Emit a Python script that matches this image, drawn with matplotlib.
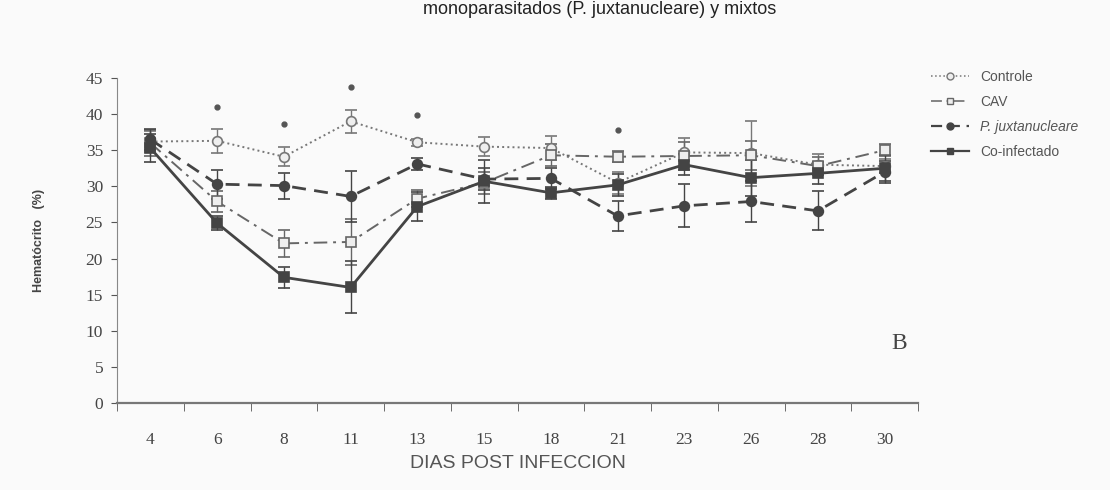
import numpy as np
import matplotlib
matplotlib.use('Agg')
import matplotlib.pyplot as plt
from matplotlib.lines import Line2D

dias = ['4', '6', '8', '11', '13', '15', '18', '21', '23', '26', '28', '30']

controle = [36.2, 36.3, 34.1, 39.0, 36.1, 35.5, 35.3, 30.5, 34.7, 34.6, 33.0, 32.8]
controle_err = [1.5, 1.7, 1.3, 1.6, 0.5, 1.3, 1.7, 1.5, 2.0, 4.5, 1.5, 1.0]
cav = [36.0, 27.9, 22.1, 22.3, 28.3, 30.5, 34.3, 34.1, 34.2, 34.3, 32.8, 35.0]
cav_err = [1.8, 1.5, 1.9, 3.2, 1.2, 1.5, 1.5, 0.8, 2.0, 2.0, 1.2, 0.8]
pjux = [36.5, 30.3, 30.1, 28.6, 33.1, 31.0, 31.1, 25.9, 27.3, 27.9, 26.6, 32.0]
pjux_err = [1.5, 2.0, 1.8, 3.5, 0.8, 1.5, 1.5, 2.1, 3.0, 2.8, 2.7, 1.5]
coinf = [35.3, 24.9, 17.4, 16.0, 27.2, 30.7, 29.1, 30.2, 33.0, 31.2, 31.8, 32.5]
coinf_err = [2.0, 1.0, 1.5, 3.6, 2.0, 3.0, 0.8, 1.5, 1.5, 2.5, 1.5, 1.8]

# asterisks (significance) above some days
sig_idx = [1, 2, 3, 4, 7]
sig_y = [41.0, 38.6, 43.7, 39.9, 37.8]

gray = '#555555'
x = np.arange(len(dias))

fig = plt.figure(figsize=(11.1, 4.9), dpi=100, facecolor='#fafafa')
ax = fig.add_axes([117 / 1110, 1 - 403 / 490, (918 - 117) / 1110, (403 - 78) / 490])
ax.set_facecolor('#fafafa')

styles = [
    (controle, controle_err, 'Controle', '#777777', ':', 1.4, 'o', '#eeeeee'),
    (cav, cav_err, 'CAV', '#666666', (0, (7, 3, 1.5, 3)), 1.4, 's', '#eeeeee'),
    (pjux, pjux_err, 'P. juxtanucleare', '#444444', (0, (5, 3)), 2, 'o', '#444444'),
    (coinf, coinf_err, 'Co-infectado', '#444444', '-', 2, 's', '#444444'),
]
handles = []
for vals, err, name, col, ls, lw, mk, mfc in styles:
    ax.errorbar(x, vals, yerr=err, color=col, ls=ls, lw=lw, marker=mk, ms=7,
                mfc=mfc, mec=col, mew=1.2, capsize=4, elinewidth=1)
    handles.append(Line2D([], [], color=col, ls=ls, lw=lw * 0.8, marker=mk, ms=5,
                          mfc=mfc, mec=col, label=name))

ax.plot(x[sig_idx], sig_y, ls='none', marker='o', ms=3.5, color='#555555')

ax.set_xlim(-0.5, len(dias) - 0.5)
ax.set_ylim(0, 45)
ax.set_yticks(np.arange(0, 46, 5))
ax.set_xticks(x)
ax.set_xticklabels(dias)
ax.set_xticks(np.arange(-0.5, len(dias), 1), minor=True)
ax.tick_params(axis='x', which='major', length=0, pad=21)
ax.tick_params(axis='x', which='minor', length=6, color=gray, direction='out')
ax.tick_params(axis='y', length=4, color=gray, direction='out', pad=6)
for lab in ax.get_xticklabels() + ax.get_yticklabels():
    lab.set_family('Liberation Serif')
    lab.set_fontsize(12.5)
    lab.set_color('#444444')

for s in ['top', 'right']:
    ax.spines[s].set_visible(False)
ax.spines['left'].set_color('#888888')
ax.spines['bottom'].set_color('#777777')
ax.spines['bottom'].set_linewidth(1.6)

ax.set_ylabel('Hematócrito   (%)', fontsize=9, fontweight='bold', color='#444444',
              family='Liberation Sans', labelpad=29)
ax.set_xlabel('DIAS POST INFECCION', fontsize=14, color='#555555',
              family='Liberation Sans', labelpad=5)

ax.text(11.1, 7.5, 'B', fontsize=17, family='Liberation Serif', color='#444444')

leg = fig.legend(handles=handles, loc='upper left', bbox_to_anchor=(918 / 1110, 1 - 57 / 490),
                 frameon=False, handlelength=2.8, labelspacing=0.8,
                 prop={'family': 'Liberation Sans', 'size': 10})
for t in leg.get_texts():
    t.set_color('#555555')
    if t.get_text() == 'P. juxtanucleare':
        t.set_style('italic')

fig.text(0.54, 0.998, 'monoparasitados (P. juxtanucleare) y mixtos', ha='center',
         va='top', fontsize=13, color='#222222', family='Liberation Sans')

fig.savefig('out.png', dpi=100, facecolor=fig.get_facecolor())
